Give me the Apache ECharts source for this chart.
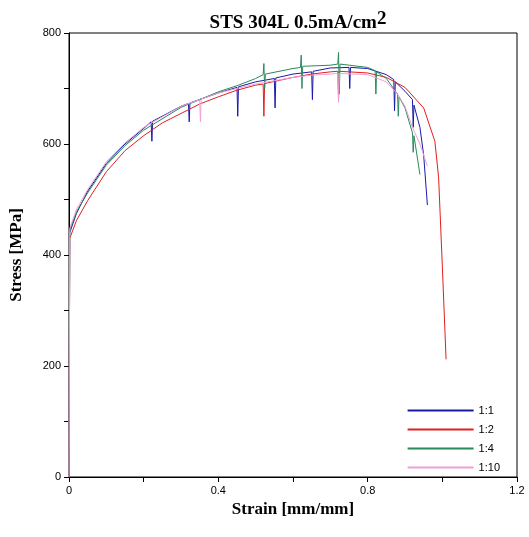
<!DOCTYPE html>
<html><head><meta charset="utf-8">
<script src="https://cdn.jsdelivr.net/npm/echarts@6/dist/echarts.min.js"></script>
<style>html,body{margin:0;padding:0;background:#fff}#c{width:529px;height:537px}</style>
</head><body><div id="c"></div>
<script>
const seriesNames = ['1:1','1:2','1:4','1:10'];
const colors = ['#1a1aa8','#e02020','#2a8a5a','#f0a0d8'];
const s11 = [[0,0],[0.002,440],[0.02,475],[0.05,515],[0.1,565],[0.15,600],[0.2,628],[0.22,640],[0.222,605],[0.224,641],[0.3,668],[0.32,673],[0.322,640],[0.324,674],[0.4,692],[0.45,702],[0.452,650],[0.454,703],[0.5,712],[0.55,718],[0.552,665],[0.554,719],[0.6,726],[0.65,730],[0.652,680],[0.654,731],[0.7,737],[0.75,738],[0.752,700],[0.754,738],[0.8,736],[0.85,725],[0.87,716],[0.872,660],[0.874,712],[0.9,695],[0.92,680],[0.922,630],[0.924,670],[0.94,630],[0.95,580],[0.96,490]];
const s12 = [[0,0],[0.002,430],[0.02,462],[0.05,498],[0.1,550],[0.15,588],[0.2,615],[0.25,638],[0.3,655],[0.35,672],[0.4,685],[0.45,697],[0.5,706],[0.52,708],[0.522,650],[0.524,709],[0.6,720],[0.65,726],[0.7,730],[0.72,731],[0.722,680],[0.724,731],[0.8,728],[0.85,720],[0.9,702],[0.95,665],[0.98,605],[0.99,540],[1.0,380],[1.01,212]];
const s14 = [[0,0],[0.002,445],[0.02,478],[0.05,512],[0.1,562],[0.15,597],[0.2,625],[0.3,666],[0.4,694],[0.45,705],[0.5,718],[0.52,725],[0.522,745],[0.524,700],[0.526,726],[0.6,736],[0.62,738],[0.622,760],[0.624,700],[0.626,740],[0.7,742],[0.72,744],[0.722,765],[0.724,690],[0.726,744],[0.8,738],[0.82,732],[0.822,690],[0.824,730],[0.85,718],[0.88,690],[0.882,650],[0.884,685],[0.9,665],[0.92,620],[0.922,585],[0.924,615],[0.94,545]];
const s110 = [[0,0],[0.002,448],[0.02,482],[0.05,518],[0.1,568],[0.15,602],[0.2,630],[0.3,668],[0.35,680],[0.352,640],[0.354,681],[0.4,692],[0.5,708],[0.55,714],[0.6,720],[0.65,724],[0.7,726],[0.72,727],[0.722,675],[0.724,727],[0.8,725],[0.85,712],[0.88,690],[0.9,668],[0.92,630],[0.94,600],[0.96,560]];
const xTicks = [0,0.4,0.8,1.2];
const yTicks = [0,200,400,600,800];
const data = [s11,s12,s14,s110];
const chart = echarts.init(document.getElementById('c'));
chart.setOption({
  animation:false,
  title:{text:'STS 304L 0.5mA/cm{s|2}',left:293,top:5,textAlign:'center',
    textStyle:{fontFamily:'Liberation Serif',fontWeight:'bold',fontSize:19,color:'#000',
      rich:{s:{fontFamily:'Liberation Serif',fontWeight:'bold',fontSize:19,verticalAlign:'top',padding:[0,0,8,0]}}}},
  grid:{left:69,right:12,top:33,bottom:60},
  legend:{orient:'vertical',right:24,top:400,itemWidth:66,itemHeight:2,itemGap:8,icon:'rect',
    textStyle:{fontSize:11,fontFamily:'Liberation Sans',color:'#000'},data:seriesNames},
  xAxis:{type:'value',min:0,max:1.2,interval:0.2,name:'Strain [mm/mm]',nameLocation:'middle',nameGap:24,
    nameTextStyle:{fontFamily:'Liberation Serif',fontWeight:'bold',fontSize:17,color:'#000'},
    axisLine:{show:true,lineStyle:{color:'#000'}},axisTick:{inside:false,lineStyle:{color:'#000'}},
    axisLabel:{color:'#000',fontSize:11,formatter:v=>xTicks.some(t=>Math.abs(t-v)<1e-6)?String(+v.toFixed(1)):''},
    splitLine:{show:false}},
  yAxis:{type:'value',min:0,max:800,interval:100,name:'Stress [MPa]',nameLocation:'middle',nameGap:44,
    nameTextStyle:{fontFamily:'Liberation Serif',fontWeight:'bold',fontSize:17,color:'#000'},
    axisLine:{show:true,lineStyle:{color:'#000'}},axisTick:{lineStyle:{color:'#000'}},
    axisLabel:{color:'#000',fontSize:11,formatter:v=>yTicks.includes(v)?String(v):''},
    splitLine:{show:false}},
  series:seriesNames.map((n,i)=>({name:n,type:'line',data:data[i],showSymbol:false,
    lineStyle:{width:1,color:colors[i]},itemStyle:{color:colors[i]}})),
  graphic:[{type:'rect',shape:{x:69,y:33,width:448,height:444},style:{fill:'none',stroke:'#000',lineWidth:1},silent:true}]
});
</script></body></html>
